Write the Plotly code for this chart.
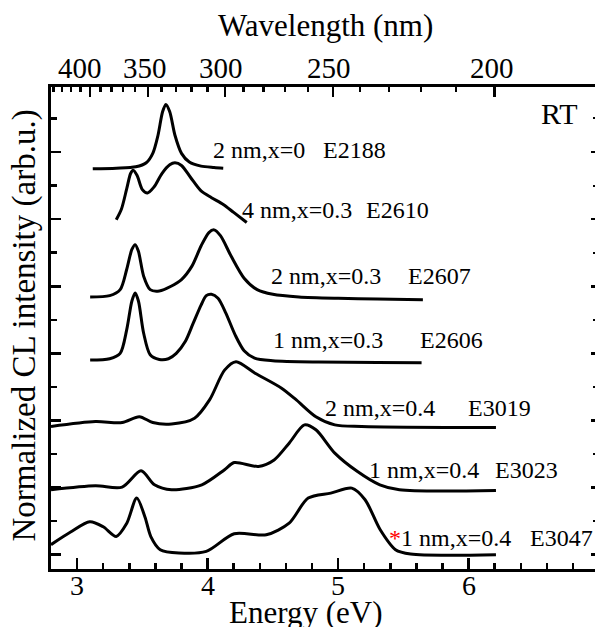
import plotly.graph_objects as go

# ---- data (energy in eV, stacked normalized CL intensity) ----
E_2188 = [3.12, 3.30, 3.45, 3.53, 3.58, 3.62, 3.655, 3.68, 3.71, 3.75, 3.80, 3.86, 3.95, 4.05, 4.12]
I_2188 = [5.75, 5.76, 5.78, 5.84, 5.98, 6.25, 6.60, 6.71, 6.60, 6.25, 5.98, 5.85, 5.79, 5.77, 5.76]

E_2610 = [3.30, 3.34, 3.38, 3.41, 3.43, 3.46, 3.50, 3.54, 3.59, 3.65, 3.71, 3.75, 3.80, 3.87, 3.95, 4.03, 4.12, 4.20, 4.30]
I_2610 = [4.99, 5.15, 5.45, 5.68, 5.73, 5.65, 5.44, 5.39, 5.48, 5.68, 5.81, 5.84, 5.80, 5.62, 5.42, 5.32, 5.22, 5.10, 4.95]

E_2607 = [3.10, 3.25, 3.33, 3.38, 3.42, 3.445, 3.47, 3.51, 3.56, 3.63, 3.72, 3.80, 3.88, 3.95, 4.01, 4.05, 4.10, 4.18, 4.28, 4.38, 4.50, 4.70, 5.00, 5.30, 5.65]
I_2607 = [3.84, 3.86, 3.95, 4.25, 4.55, 4.62, 4.52, 4.15, 3.95, 3.93, 4.00, 4.10, 4.30, 4.60, 4.80, 4.84, 4.75, 4.45, 4.12, 3.95, 3.88, 3.84, 3.82, 3.81, 3.80]

E_2606 = [3.10, 3.25, 3.33, 3.38, 3.42, 3.445, 3.47, 3.51, 3.56, 3.63, 3.70, 3.76, 3.83, 3.89, 3.95, 3.99, 4.03, 4.08, 4.14, 4.21, 4.28, 4.36, 4.50, 4.85, 5.30, 5.64]
I_2606 = [2.90, 2.92, 3.00, 3.35, 3.78, 3.90, 3.78, 3.30, 2.98, 2.91, 2.92, 3.00, 3.18, 3.45, 3.72, 3.86, 3.88, 3.82, 3.60, 3.28, 3.04, 2.93, 2.89, 2.87, 2.865, 2.86]

E_3019 = [2.80, 3.14, 3.345, 3.477, 3.58, 3.724, 3.90, 4.015, 4.13, 4.218, 4.364, 4.567, 4.68, 4.83, 4.975, 5.18, 6.21]
I_3019 = [1.910, 1.983, 1.969, 2.056, 1.969, 1.949, 2.034, 2.306, 2.750, 2.876, 2.704, 2.481, 2.306, 2.056, 1.934, 1.910, 1.894]

E_3023 = [2.80, 3.14, 3.345, 3.49, 3.593, 3.724, 3.956, 4.13, 4.204, 4.39, 4.51, 4.625, 4.742, 4.83, 4.975, 5.149, 5.32, 5.47, 6.21]
I_3023 = [0.967, 1.026, 1.007, 1.250, 1.041, 0.967, 1.041, 1.266, 1.373, 1.315, 1.412, 1.662, 1.934, 1.861, 1.514, 1.239, 1.041, 0.967, 0.957]

E_3047 = [2.80, 2.95, 3.097, 3.20, 3.30, 3.38, 3.457, 3.52, 3.565, 3.637, 3.78, 3.99, 4.204, 4.45, 4.625, 4.771, 4.944, 5.105, 5.207, 5.323, 5.44, 5.556, 6.21]
I_3047 = [0.150, 0.338, 0.491, 0.416, 0.272, 0.465, 0.844, 0.563, 0.270, 0.075, 0.026, 0.049, 0.312, 0.297, 0.471, 0.844, 0.918, 0.992, 0.819, 0.371, 0.075, 0.010, 0.000]

series = [
    (E_2188, I_2188), (E_2610, I_2610), (E_2607, I_2607), (E_2606, I_2606),
    (E_3019, I_3019), (E_3023, I_3023), (E_3047, I_3047),
]

labels_desc = ["2 nm,x=0", "4 nm,x=0.3", "2 nm,x=0.3", "1 nm,x=0.3", "2 nm,x=0.4", "1 nm,x=0.4", "1 nm,x=0.4"]
labels_id = ["E2188", "E2610", "E2607", "E2606", "E3019", "E3023", "E3047"]
label_desc_x = [4.025, 4.247, 4.470, 4.485, 4.887, 5.22, 5.465]
label_id_x = [4.867, 5.197, 5.519, 5.61, 5.979, 6.19, 6.455]
label_y = [6.027, 5.134, 4.152, 3.199, 2.188, 1.265, 0.253]

energy_ticks = [3, 4, 5, 6]
wl_major = [400, 350, 300, 250, 200]
wl_minor = [440, 430, 420, 410, 390, 380, 370, 360, 340, 330, 320, 310, 290, 280, 270, 260, 240, 230, 220, 210]
wl_label_shift = [-10.5, -3, -4, -4, -3]

X_RANGE = [2.8, 6.969]
Y_RANGE = [-0.213, 6.969]
Y_TICKS = [0, 1, 2, 3, 4, 5, 6]

FONT = "Liberation Serif"

fig = go.Figure()
for k, (ex, iy) in enumerate(series):
    on_second = (k == len(series) - 1)
    fig.add_trace(go.Scatter(x=ex, y=iy, mode="lines",
                             line=dict(color="black", width=3, shape="spline", smoothing=0.8),
                             xaxis="x2" if on_second else "x", yaxis="y2" if on_second else "y",
                             showlegend=False, hoverinfo="skip"))

axis_common = dict(showgrid=False, zeroline=False, showline=True, linecolor="black", linewidth=3,
                   ticks="inside", tickcolor="black", tickwidth=2.5, automargin=False)

fig.update_layout(
    width=595, height=627, autosize=False,
    margin=dict(l=51, r=0, t=87, b=58, autoexpand=False),
    paper_bgcolor="white", plot_bgcolor="white",
    font=dict(family=FONT, color="black"),
    xaxis=dict(range=X_RANGE, tickvals=energy_ticks, showticklabels=False, ticklen=11,
               minor=dict(dtick=0.2, tick0=2.8, ticklen=6, ticks="inside", tickcolor="black", tickwidth=2.5),
               **axis_common),
    xaxis2=dict(range=X_RANGE, overlaying="x", side="top", anchor="y",
                tickvals=[1240 / w for w in wl_major], showticklabels=False, ticklen=10,
                minor=dict(tickvals=[1240 / w for w in wl_minor], ticklen=5, ticks="inside", tickcolor="black", tickwidth=2.5),
                **axis_common),
    yaxis=dict(range=Y_RANGE, tickvals=Y_TICKS, showticklabels=False, ticklen=10,
               minor=dict(dtick=0.5, tick0=0, ticklen=6, ticks="inside", tickcolor="black", tickwidth=2.5),
               **axis_common),
    yaxis2=dict(range=Y_RANGE, overlaying="y", side="right", anchor="x", showline=False, showgrid=False, zeroline=False,
                tickvals=Y_TICKS, showticklabels=False, ticks="inside", ticklen=4,
                tickcolor="black", tickwidth=2.5, automargin=False,
                minor=dict(dtick=0.5, tick0=0, ticklen=2, ticks="inside", tickcolor="black", tickwidth=2)),
)

annotations = []
for i in range(len(labels_id)):
    annotations.append(dict(x=label_desc_x[i], y=label_y[i], xref="x", yref="y", text=labels_desc[i],
                            showarrow=False, xanchor="left", yanchor="middle", font=dict(size=24, family=FONT)))
    annotations.append(dict(x=label_id_x[i], y=label_y[i], xref="x", yref="y", text=labels_id[i],
                            showarrow=False, xanchor="left", yanchor="middle", font=dict(size=24, family=FONT)))
annotations.append(dict(x=5.378, y=label_y[6], xref="x", yref="y", text="*", showarrow=False,
                        xanchor="left", yanchor="middle", font=dict(size=24, family=FONT, color="red")))
annotations.append(dict(x=6.537, y=6.577, xref="x", yref="y", text="RT", showarrow=False,
                        xanchor="left", yanchor="middle", font=dict(size=30, family=FONT)))
# tick labels
for e in energy_ticks:
    annotations.append(dict(x=e, y=-0.0332, xref="x", yref="paper", text=str(e), showarrow=False,
                            xanchor="center", yanchor="middle", font=dict(size=28, family=FONT)))
for w, s in zip(wl_major, wl_label_shift):
    annotations.append(dict(x=1240 / w, y=1.0394, xref="x", yref="paper", text=str(w), showarrow=False,
                            xshift=s, xanchor="center", yanchor="middle", font=dict(size=29, family=FONT)))
# axis titles
annotations.append(dict(x=0.468, y=-0.091, xref="paper", yref="paper", text="Energy (eV)", showarrow=False,
                        xanchor="center", yanchor="middle", font=dict(size=31, family=FONT)))
annotations.append(dict(x=0.5055, y=1.1286, xref="paper", yref="paper", text="Wavelength (nm)", showarrow=False,
                        xanchor="center", yanchor="middle", font=dict(size=31, family=FONT)))
annotations.append(dict(x=-0.0478, y=0.505, xref="paper", yref="paper", text="Normalized CL intensity (arb.u.)",
                        showarrow=False, textangle=-90, xanchor="center", yanchor="middle",
                        font=dict(size=33, family=FONT)))
fig.update_layout(annotations=annotations)

fig.write_html("out.html", config={"displayModeBar": False, "staticPlot": True},
               post_script="document.body.style.margin='0';document.body.style.padding='0';document.body.style.overflow='hidden';")
